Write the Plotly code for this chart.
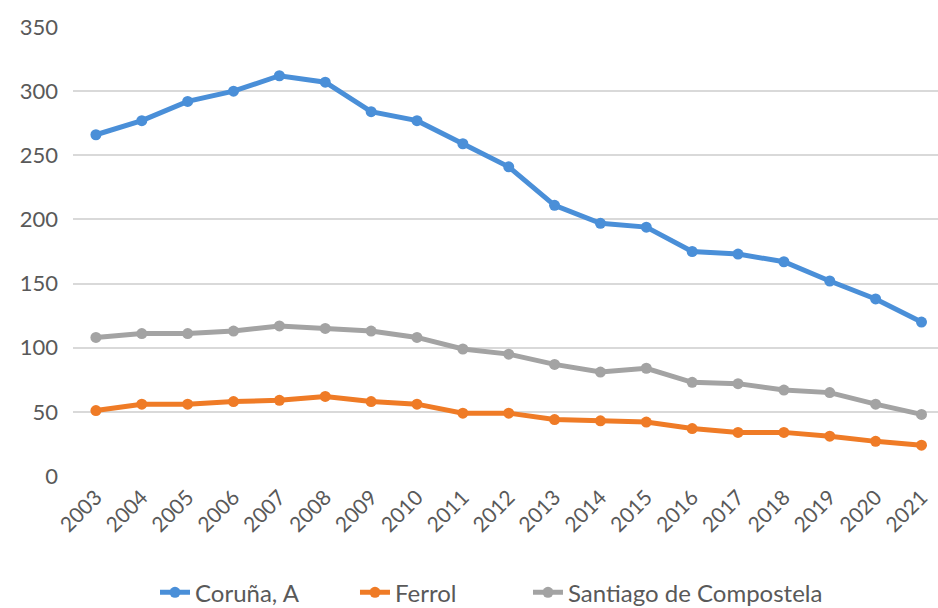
import plotly.graph_objects as go

years = [str(y) for y in range(2003, 2022)]

coruna = [266, 277, 292, 300, 312, 307, 284, 277, 259, 241, 211, 197, 194, 175, 173, 167, 152, 138, 120]
ferrol = [51, 56, 56, 58, 59, 62, 58, 56, 49, 49, 44, 43, 42, 37, 34, 34, 31, 27, 24]
santiago = [108, 111, 111, 113, 117, 115, 113, 108, 99, 95, 87, 81, 84, 73, 72, 67, 65, 56, 48]

series = [
    ("Coruña, A", coruna, "#4A8FD8", "legend", 0.0948),
    ("Ferrol", ferrol, "#EF7B26", "legend2", 0.326),
    ("Santiago de Compostela", santiago, "#A3A3A3", "legend3", 0.526),
]

font_family = "Lato, 'Open Sans', sans-serif"
text_color = "#595959"

fig = go.Figure()
legend_layout = {}
for name, vals, color, legend_id, lx in series:
    fig.add_trace(go.Scatter(
        x=list(range(len(years))),
        y=vals,
        name=name,
        mode="lines+markers",
        line=dict(color=color, width=5),
        marker=dict(color=color, size=11),
        legend=legend_id,
    ))
    # one legend box per series so each entry sits at its own spot
    legend_layout[legend_id] = dict(
        orientation="h",
        x=lx,
        xanchor="left",
        y=-0.26,
        yanchor="middle",
        font=dict(family=font_family, size=24, color=text_color),
        bgcolor="rgba(0,0,0,0)",
    )

fig.update_layout(
    width=938,
    height=608,
    margin=dict(l=73, r=0, t=27, b=132, autoexpand=False),
    paper_bgcolor="white",
    plot_bgcolor="white",
    font=dict(family=font_family, size=22, color=text_color),
    showlegend=True,
    xaxis=dict(
        range=[-0.5, 18.36],
        tickmode="array",
        tickvals=list(range(len(years))),
        ticktext=years,
        tickangle=-45,
        showgrid=False,
        zeroline=False,
        showline=False,
        ticks="",
        automargin=False,
        ticklabelstandoff=4,
        tickfont=dict(size=21, color=text_color),
    ),
    yaxis=dict(
        range=[0, 350],
        dtick=50,
        showgrid=True,
        gridcolor="#D9D9D9",
        gridwidth=1.5,
        zeroline=False,
        showline=False,
        ticks="",
        automargin=False,
        ticklabelstandoff=14,
        tickfont=dict(size=22, color=text_color),
    ),
    **legend_layout,
)

fig.write_html("out.html")
